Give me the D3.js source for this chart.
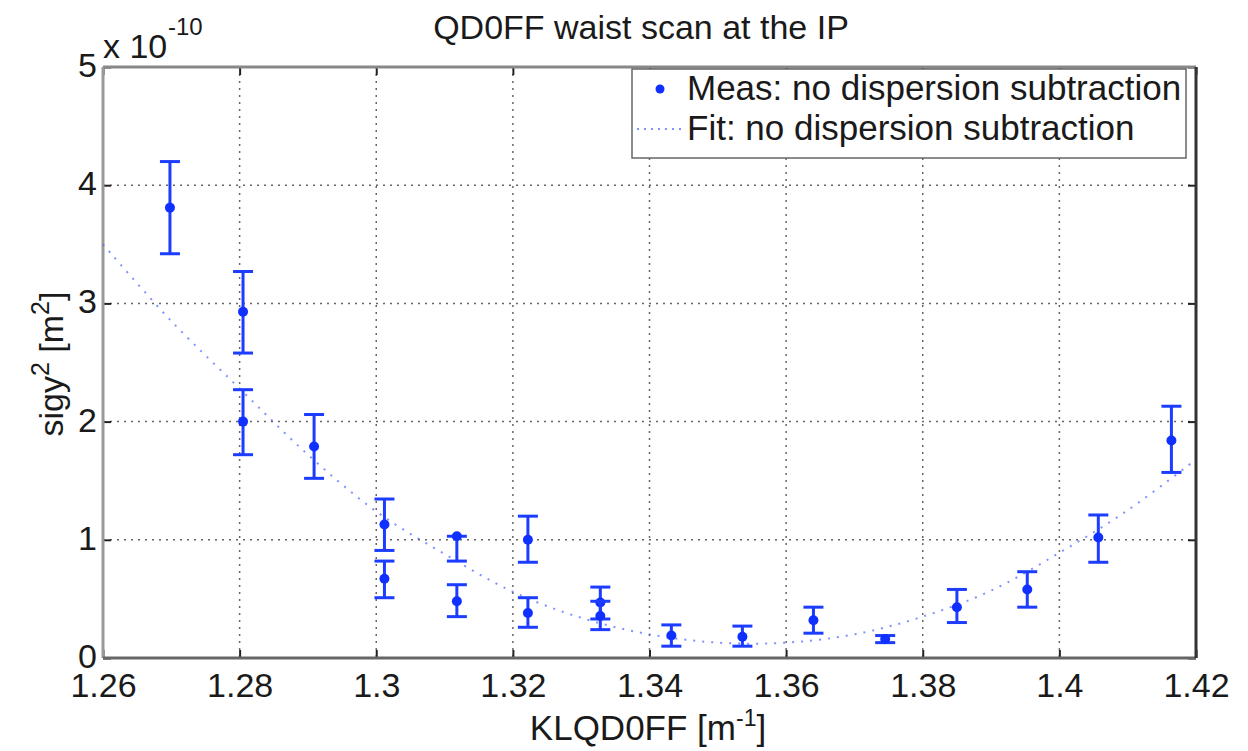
<!DOCTYPE html>
<html lang="en">
<head>
<meta charset="utf-8">
<title>QD0FF waist scan</title>
<script src="https://d3js.org/d3.v7.js"></script>
<style type="text/css">
	body { margin: 0; background: #ffffff; }
	text { font-family: "Liberation Sans", Arial, Helvetica, sans-serif; fill: #1a1a1a; }
</style>
</head>
<body>
<div id="chart"></div>
<script>
// measured points (y in units of 1e-10 m^2)
const measX = [1.2698, 1.2805, 1.2805, 1.2909, 1.3012, 1.3012, 1.3118, 1.3118, 1.3222, 1.3222,
               1.3328, 1.3328, 1.3432, 1.3536, 1.3640, 1.3745, 1.3850, 1.3953, 1.4057, 1.4164];
const measY = [3.81, 2.93, 2.00, 1.79, 1.13, 0.67, 1.03, 0.48, 1.00, 0.38,
               0.47, 0.355, 0.19, 0.18, 0.32, 0.16, 0.43, 0.58, 1.02, 1.84];
const errLow = [3.42, 2.58, 1.72, 1.52, 0.91, 0.51, 0.82, 0.35, 0.81, 0.26,
                0.33, 0.24, 0.10, 0.10, 0.21, 0.13, 0.30, 0.43, 0.81, 1.57];
const errHigh = [4.20, 3.27, 2.27, 2.06, 1.345, 0.82, 1.03, 0.62, 1.20, 0.51,
                 0.60, 0.48, 0.28, 0.27, 0.43, 0.19, 0.58, 0.73, 1.21, 2.13];

// fit curve
const fitX = [1.26, 1.27, 1.28, 1.29, 1.30, 1.31, 1.32, 1.33, 1.34, 1.35, 1.36, 1.37, 1.38, 1.39, 1.40, 1.41, 1.42];
const fitY = [3.50, 2.85, 2.28, 1.72, 1.24, 0.88, 0.56, 0.34, 0.20, 0.13, 0.13, 0.20, 0.35, 0.57, 0.89, 1.25, 1.68];

const xTicks = [1.26, 1.28, 1.30, 1.32, 1.34, 1.36, 1.38, 1.40, 1.42];
const xTickLabels = ["1.26", "1.28", "1.3", "1.32", "1.34", "1.36", "1.38", "1.4", "1.42"];
const yTicks = [0, 1, 2, 3, 4, 5];
const legendLabels = ["Meas: no dispersion subtraction", "Fit: no dispersion subtraction"];

const W = 1248, H = 751;
const margin = {top: 67, right: 52, bottom: 93, left: 103};
const width = W - margin.left - margin.right,
      height = H - margin.top - margin.bottom;
const BLUE = "#1c3cff";

const root = d3.select("#chart").append("svg")
	.attr("width", W)
	.attr("height", H);

const svg = root.append("g")
	.attr("transform", `translate(${margin.left}, ${margin.top})`);

const x = d3.scaleLinear().domain([1.26, 1.42]).range([0, width]);
const y = d3.scaleLinear().domain([0, 5]).range([height, 0]);

// grid
svg.append("g").selectAll("line")
	.data(xTicks.slice(1, -1))
	.join("line")
	.attr("x1", d => x(d)).attr("x2", d => x(d))
	.attr("y1", 0).attr("y2", height)
	.attr("stroke", "#666").attr("stroke-width", 1.5)
	.attr("stroke-dasharray", "2,5");
svg.append("g").selectAll("line")
	.data(yTicks.slice(1, -1))
	.join("line")
	.attr("x1", 0).attr("x2", width)
	.attr("y1", d => y(d)).attr("y2", d => y(d))
	.attr("stroke", "#666").attr("stroke-width", 1.5)
	.attr("stroke-dasharray", "2,5");

// axes (inward ticks like matlab)
const fmtX = d => xTickLabels[xTicks.indexOf(d)];
const xAxis = svg.append("g")
	.attr("transform", `translate(0, ${height})`)
	.call(d3.axisBottom(x).tickValues(xTicks).tickFormat(fmtX).tickSizeInner(-8).tickSizeOuter(0).tickPadding(15));
const xTop = svg.append("g")
	.call(d3.axisTop(x).tickValues(xTicks).tickFormat("").tickSizeInner(-8).tickSizeOuter(0));
const yAxis = svg.append("g")
	.call(d3.axisLeft(y).tickValues(yTicks).tickFormat(d3.format("d")).tickSizeInner(-8).tickSizeOuter(0).tickPadding(6));
const yRight = svg.append("g")
	.attr("transform", `translate(${width}, 0)`)
	.call(d3.axisRight(y).tickValues(yTicks).tickFormat("").tickSizeInner(-8).tickSizeOuter(0));

[xAxis, xTop, yAxis, yRight].forEach(function(a) {
	a.select(".domain").remove();
	a.selectAll(".tick line").attr("stroke", "#222").attr("stroke-width", 2);
	a.selectAll("text").style("font-size", "34px").attr("fill", "#1a1a1a");
});
// lift the y labels a touch so "0" clears "1.26"
yAxis.selectAll("text").attr("dy", "0.28em");

// box
svg.append("line").attr("x1", 0).attr("x2", width).attr("y1", 0).attr("y2", 0)
	.attr("stroke", "#888").attr("stroke-width", 3);
svg.append("line").attr("x1", 0).attr("x2", 0).attr("y1", 0).attr("y2", height)
	.attr("stroke", "#999").attr("stroke-width", 3);
svg.append("line").attr("x1", 0).attr("x2", width).attr("y1", height).attr("y2", height)
	.attr("stroke", "#666").attr("stroke-width", 3);
svg.append("line").attr("x1", width).attr("x2", width).attr("y1", 0).attr("y2", height)
	.attr("stroke", "#333").attr("stroke-width", 3);

// fit curve
const line = d3.line()
	.x((d, i) => x(fitX[i]))
	.y(d => y(d))
	.curve(d3.curveCatmullRom);
svg.append("path")
	.datum(fitY)
	.attr("d", line)
	.attr("fill", "none")
	.attr("stroke", "#4a64ff")
	.attr("stroke-opacity", 0.7)
	.attr("stroke-width", 2)
	.attr("stroke-dasharray", "2,7");

// error bars
const eb = svg.append("g").selectAll("g")
	.data(measX)
	.join("g");
eb.append("line")
	.attr("x1", d => x(d)).attr("x2", d => x(d))
	.attr("y1", (d, i) => y(errLow[i])).attr("y2", (d, i) => y(errHigh[i]))
	.attr("stroke", BLUE).attr("stroke-width", 3);
eb.append("line")
	.attr("x1", d => x(d) - 10).attr("x2", d => x(d) + 10)
	.attr("y1", (d, i) => y(errLow[i])).attr("y2", (d, i) => y(errLow[i]))
	.attr("stroke", BLUE).attr("stroke-width", 3);
eb.append("line")
	.attr("x1", d => x(d) - 10).attr("x2", d => x(d) + 10)
	.attr("y1", (d, i) => y(errHigh[i])).attr("y2", (d, i) => y(errHigh[i]))
	.attr("stroke", BLUE).attr("stroke-width", 3);
eb.append("circle")
	.attr("cx", d => x(d))
	.attr("cy", (d, i) => y(measY[i]))
	.attr("r", 5)
	.attr("fill", "#1030ff");

// legend
const leg = root.append("g");
leg.append("rect")
	.attr("x", 632).attr("y", 69).attr("width", 554).attr("height", 89)
	.attr("fill", "#fff").attr("stroke", "#666").attr("stroke-width", 1.5);
leg.append("circle").attr("cx", 660).attr("cy", 89).attr("r", 4.5).attr("fill", "#1030ff");
leg.append("line").attr("x1", 637).attr("x2", 683).attr("y1", 129).attr("y2", 129)
	.attr("stroke", "#4a64ff").attr("stroke-opacity", 0.7).attr("stroke-width", 2).attr("stroke-dasharray", "2,5");
leg.selectAll("text.lab")
	.data(legendLabels)
	.join("text")
	.attr("class", "lab")
	.attr("x", 687)
	.attr("y", (d, i) => 100 + i * 40)
	.style("font-size", "35px")
	.text(d => d);

// title and labels
root.append("text")
	.attr("x", 641).attr("y", 39)
	.attr("text-anchor", "middle")
	.style("font-size", "34px")
	.text("QD0FF waist scan at the IP");

const exp = root.append("g");
exp.append("text").attr("x", 103).attr("y", 58).style("font-size", "34px").text("x 10");
exp.append("text").attr("x", 168).attr("y", 35).style("font-size", "24px").text("-10");

const xl = root.append("text")
	.attr("x", 648).attr("y", 740)
	.attr("text-anchor", "middle")
	.style("font-size", "35px");
xl.append("tspan").text("KLQD0FF [m");
xl.append("tspan").attr("dy", -14).style("font-size", "23px").text("-1");
xl.append("tspan").attr("dy", 14).text("]");

const yl = root.append("text")
	.attr("transform", "translate(63, 364) rotate(-90)")
	.attr("text-anchor", "middle")
	.style("font-size", "34px");
yl.append("tspan").text("sigy");
yl.append("tspan").attr("dy", -14).style("font-size", "25px").text("2");
yl.append("tspan").attr("dy", 14).text(" [m");
yl.append("tspan").attr("dy", -14).style("font-size", "25px").text("2");
yl.append("tspan").attr("dy", 14).text("]");
</script>
</body>
</html>
